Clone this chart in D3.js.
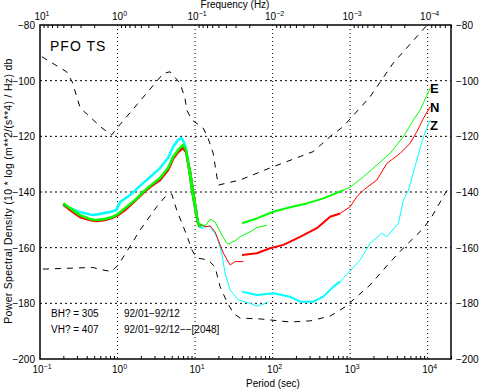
<!DOCTYPE html>
<html>
<head>
<meta charset="utf-8">
<script src="https://cdn.jsdelivr.net/npm/d3@7"></script>
<style>
body { margin: 0; background: #fff; }
svg { font-family: "Liberation Sans", Arial, Helvetica, sans-serif; }
</style>
</head>
<body>
<svg id="chart" width="482" height="390"></svg>
<script>
// ---- data (period in s, PSD in dB) ----
const periodExp = [-1, 0, 1, 2, 3, 4]
const freqExp = [1, 0, -1, -2, -3, -4]
const dbTicks = [-80, -100, -120, -140, -160, -180, -200]

// noise model curves (dashed)
const highModel = [[0.106,-91.4],[0.22,-96.8],[0.26,-100.4],[0.33,-109.8],[0.63,-117.0],[0.84,-119.5],[1.02,-116.5],[1.77,-108.7],[3.05,-100.9],[3.9,-97.4],[4.75,-96.8],[6.4,-100.9],[7.4,-106.2],[7.8,-110.5],[9.1,-114.1],[12.7,-117.0],[14.7,-120.6],[17.1,-126.0],[19.1,-134.5],[20,-137.5],[38,-135.7],[102,-130.9],[333,-125.5],[552,-120.1],[813,-116.5],[1810,-105.8],[3590,-93.7],[9860,-80],[16800,-72.8]]
const lowModel = [[0.109,-167.7],[0.48,-167.1],[0.59,-167.8],[0.84,-168.6],[1.02,-166.2],[1.31,-161.5],[1.95,-153.7],[3.2,-145.3],[4.3,-141.1],[5.0,-140.7],[5.8,-146.5],[7.8,-155.5],[9.1,-160.8],[10.5,-163.7],[14.7,-164.4],[18.1,-166.9],[21,-174.0],[25.7,-179.4],[31.2,-183.6],[38.1,-185.3],[69,-185.6],[168,-186.7],[305,-186.3],[552,-184.6],[861,-181.3],[1810,-173.4],[3280,-165.2],[4830,-160.2],[8830,-153.0],[11300,-148.9],[16800,-140.5],[22600,-135.7]]

// E channel (green)
const eShort = [[0.20,-144.0],[0.244,-145.8],[0.328,-148.3],[0.44,-149.7],[0.54,-150.1],[0.69,-149.7],[0.85,-149.0],[1.01,-147.9],[1.25,-145.8],[1.68,-142.9],[2.13,-140.0],[2.63,-137.8],[3.53,-135.0],[4.48,-131.4],[5.2,-127.4],[6.04,-124.9],[7.0,-123.1],[7.65,-124.9],[8.13,-129.6],[8.61,-133.9],[9.15,-139.3],[10.0,-145.4],[10.9,-151.1],[11.6,-152.6]]
const eMid = [[8.61,-131],[10.5,-146.5],[11.0,-151.2],[13.5,-152.2],[15.6,-149.8],[18.1,-150.7],[22.1,-155.5],[25.7,-158.4],[26.9,-158.7],[32.8,-157.5],[38.1,-156.1],[51.3,-154.3],[62.6,-152.8],[84.2,-151.9]]
const eNoisy = [[40.4,-151.2],[62.6,-149.5],[102,-147.1],[168,-145.5],[276,-144.1],[452,-142.3],[820,-139.3]]
const eLong = [[820,-139.3],[1000,-138.3],[1486,-134.5],[2210,-130.3],[3280,-126.1],[4870,-120.1],[6560,-114.1],[8000,-110.5],[10770,-102.7]]

// N channel (red)
const nShort = [[0.20,-144.3],[0.244,-146.5],[0.328,-149.0],[0.44,-150.1],[0.54,-150.4],[0.69,-150.1],[0.85,-149.3],[1.01,-148.3],[1.25,-146.5],[1.68,-143.2],[2.13,-140.4],[2.63,-138.2],[3.53,-135.7],[4.48,-132.1],[5.2,-128.1],[6.04,-125.6],[7.0,-124.2],[7.65,-125.6],[8.13,-129.6],[8.61,-133.9],[9.15,-139.3],[10.0,-145.4],[10.9,-151.1],[11.6,-152.6]]
const nMid = [[8.61,-131],[10.5,-146.5],[11.0,-151.2],[13.5,-152.5],[15.6,-152.2],[18.1,-154.3],[23.2,-162.0],[28.3,-166.2],[32.8,-165.0],[42.0,-165.0]]
const nNoisy = [[40.4,-162.6],[62.6,-162.0],[92.9,-160.2],[138,-159.0],[226,-156.1],[372,-153.0],[552,-148.9],[743,-147.7]]
const nLong = [[743,-147.7],[1000,-145.3],[1220,-141.7],[1486,-139.3],[2210,-135.7],[2980,-129.7],[4420,-126.1],[5940,-122.5],[7260,-118.3],[8830,-113.5],[10770,-109.4]]

// Z channel (cyan)
const zShort = [[0.20,-145.0],[0.244,-145.8],[0.328,-147.2],[0.48,-148.3],[0.59,-147.9],[0.80,-147.2],[0.96,-146.5],[1.08,-143.6],[1.45,-141.1],[2.13,-136.8],[2.63,-134.6],[3.53,-131.4],[4.48,-127.8],[5.2,-123.8],[6.04,-121.3],[6.73,-120.6],[7.43,-123.1],[8.13,-128.5],[8.61,-133.9],[9.15,-139.3],[10.0,-145.4],[10.9,-151.1],[12.3,-152.9]]
const zMid = [[8.61,-131],[10.5,-146.5],[11.0,-151.2],[12.3,-153.2],[13.5,-152.5],[15.6,-152.2],[19.1,-156.1],[22.1,-162.0],[24.4,-169.2],[28.3,-175.2],[36.2,-178.8],[51.3,-180.0],[62.6,-181.0],[76.1,-180.3],[88.3,-179.4]]
const zNoisy = [[40.4,-175.8],[62.6,-177.0],[102,-176.4],[168,-177.6],[226,-179.4],[336,-179.4],[452,-177.6],[609,-174.0],[743,-172.2]]
const zLong = [[743,-172.2],[1000,-168.4],[1346,-164.4],[1810,-158.4],[2560,-154.8],[2980,-156.1],[4200,-151.2],[4870,-142.9],[5650,-139.3],[7260,-128.5],[8830,-120.1],[10770,-114.1]]

const channels = [
    { name: 'Z', color: '#00ffff', segs: [zShort, zMid, zNoisy, zLong], labelDb: -115.9 },
    { name: 'N', color: '#ff0000', segs: [nShort, nMid, nNoisy, nLong], labelDb: -109.4 },
    { name: 'E', color: '#00ff00', segs: [eShort, eMid, eNoisy, eLong], labelDb: -102.6 }
]
const segWidth = [2.5, 1, 2, 1]

// ---- layout ----
const mLeft = 40, mRight = 451, mTop = 25, mBottom = 359

const x = d3.scaleLog().domain([0.1, 20000]).range([mLeft, mRight])
const y = d3.scaleLinear().domain([-200, -80]).range([mBottom, mTop])

const svg = d3.select('#chart')

svg.append('clipPath').attr('id', 'plotclip')
    .append('rect')
    .attr('x', mLeft).attr('y', mTop)
    .attr('width', mRight - mLeft).attr('height', mBottom - mTop)

// grid
svg.append('g').selectAll('line')
    .data(periodExp.slice(1))
    .enter().append('line')
    .attr('x1', d => x(Math.pow(10, d))).attr('x2', d => x(Math.pow(10, d)))
    .attr('y1', mTop).attr('y2', mBottom)
    .attr('stroke', '#000').attr('stroke-width', 1)
    .attr('stroke-dasharray', '1,3')

svg.append('g').selectAll('line')
    .data(dbTicks.slice(1, -1))
    .enter().append('line')
    .attr('x1', mLeft).attr('x2', mRight)
    .attr('y1', d => y(d)).attr('y2', d => y(d))
    .attr('stroke', '#000').attr('stroke-width', 1)
    .attr('stroke-dasharray', '2,3')

// minor ticks: period (bottom) and frequency (top)
var periodMinor = []
periodExp.forEach(e => {
    for (let k = 2; k <= 9; k++) {
        let v = k * Math.pow(10, e)
        if (v <= 20000) periodMinor.push(v)
    }
})
var freqMinor = []
for (let e = -5; e <= 0; e++) {
    for (let k = 2; k <= 9; k++) {
        let p = 1 / (k * Math.pow(10, e))
        if (p >= 0.1 && p <= 20000) freqMinor.push(p)
    }
}

svg.append('g')
    .attr('transform', `translate(0,${mBottom})`)
    .call(d3.axisBottom(x).tickValues(periodMinor).tickSize(-3).tickFormat(''))
    .call(g => g.select('.domain').remove())

svg.append('g')
    .attr('transform', `translate(0,${mTop})`)
    .call(d3.axisTop(x).tickValues(freqMinor).tickSize(-3).tickFormat(''))
    .call(g => g.select('.domain').remove())

// curves
const line = d3.line()
    .x(d => x(d[0]))
    .y(d => y(d[1]))

const plot = svg.append('g').attr('clip-path', 'url(#plotclip)')

plot.selectAll('.model')
    .data([highModel, lowModel])
    .enter().append('path')
    .attr('class', 'model')
    .attr('d', line)
    .attr('fill', 'none')
    .attr('stroke', '#000')
    .attr('stroke-width', 1)
    .attr('stroke-dasharray', '6,6')

channels.forEach(ch => {
    ch.segs.forEach((seg, i) => {
        plot.append('path')
            .datum(seg)
            .attr('d', line)
            .attr('fill', 'none')
            .attr('stroke', ch.color)
            .attr('stroke-width', segWidth[i])
            .attr('stroke-linejoin', 'round')
    })
})

// frame
svg.append('rect')
    .attr('x', mLeft).attr('y', mTop)
    .attr('width', mRight - mLeft).attr('height', mBottom - mTop)
    .attr('fill', 'none').attr('stroke', '#000').attr('stroke-width', 1.5)

// tick labels
function sciLabel(sel, e) {
    sel.append('tspan').text('10')
    sel.append('tspan').attr('dy', -4).attr('font-size', 7)
        .text(e < 0 ? '\u2212' + (-e) : e)
}

svg.append('g').selectAll('text')
    .data(periodExp)
    .enter().append('text')
    .attr('x', d => x(Math.pow(10, d)) + 2)
    .attr('y', 373)
    .attr('text-anchor', 'middle')
    .attr('font-size', 10)
    .each(function (d) { sciLabel(d3.select(this), d) })

svg.append('g').selectAll('text')
    .data(freqExp)
    .enter().append('text')
    .attr('x', d => x(1 / Math.pow(10, d)) + 2)
    .attr('y', 20)
    .attr('text-anchor', 'middle')
    .attr('font-size', 10)
    .each(function (d) { sciLabel(d3.select(this), d) })

svg.append('g').selectAll('text')
    .data(dbTicks)
    .enter().append('text')
    .attr('x', 35)
    .attr('y', d => y(d) + 4)
    .attr('text-anchor', 'end')
    .attr('font-size', 10)
    .text(d => '\u2212' + (-d))

svg.append('g').selectAll('text')
    .data(dbTicks)
    .enter().append('text')
    .attr('x', 456)
    .attr('y', d => y(d) + 4)
    .attr('text-anchor', 'start')
    .attr('font-size', 10)
    .text(d => '\u2212' + (-d))

// axis titles
svg.append('text')
    .attr('x', 235).attr('y', 8)
    .attr('text-anchor', 'middle').attr('font-size', 10)
    .text('Frequency (Hz)')

svg.append('text')
    .attr('x', 273).attr('y', 387)
    .attr('text-anchor', 'middle').attr('font-size', 10)
    .text('Period (sec)')

svg.append('text')
    .attr('transform', 'translate(12,191) rotate(-90)')
    .attr('text-anchor', 'middle').attr('font-size', 10.5)
    .attr('letter-spacing', 0.3)
    .text('Power Spectral Density (10 * log (m**2/(s**4) / Hz) db')

// annotations
svg.append('text')
    .attr('x', 50).attr('y', 51)
    .attr('font-size', 14).attr('letter-spacing', 1)
    .text('PFO  TS')

channels.forEach(ch => {
    svg.append('text')
        .attr('x', 430).attr('y', y(ch.labelDb) + 5)
        .attr('font-size', 13).attr('font-weight', 'bold')
        .text(ch.name)
})

const notes = [
    ['BH? = 305', '92/01\u221292/12'],
    ['VH? = 407', '92/01\u221292/12\u2212\u2212[2048]']
]
notes.forEach((n, i) => {
    svg.append('text').attr('x', 51).attr('y', 317 + i * 16)
        .attr('font-size', 10).text(n[0])
    svg.append('text').attr('x', 124).attr('y', 317 + i * 16)
        .attr('font-size', 10).text(n[1])
})
</script>
</body>
</html>
